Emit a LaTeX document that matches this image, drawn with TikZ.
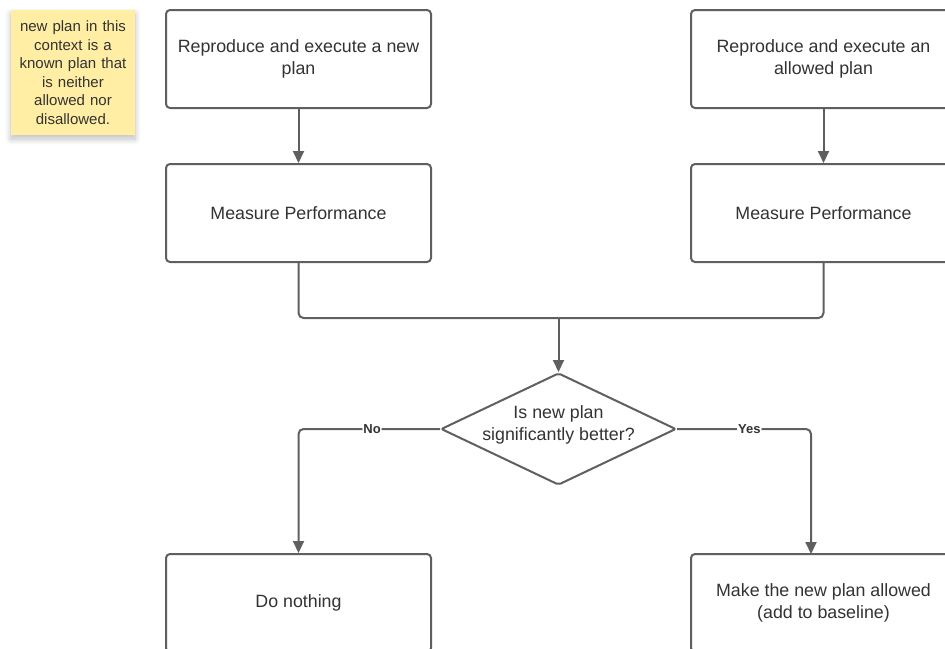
\documentclass[tikz,border=0pt]{standalone}
\usepackage{fontspec}
\setmainfont{Liberation Sans}
\usetikzlibrary{arrows.meta,shapes.geometric,shadows.blur}
\definecolor{edge}{HTML}{5F5F5F}
\definecolor{ink}{HTML}{333333}
\definecolor{note}{HTML}{FFEEA3}
\tikzset{
  stepbox/.style={draw=edge, line width=2pt, rounded corners=4pt, fill=white,
    minimum width=265pt, minimum height=98pt, align=center, text=ink,
    inner sep=0pt, font=\fontsize{17.8}{22}\selectfont},
  decision/.style={draw=edge, line width=2pt, diamond, aspect=2.1, fill=white,
    minimum width=235pt, minimum height=112pt, inner sep=0pt, align=center,
    text=ink, font=\fontsize{17.8}{22}\selectfont, rounded corners=2pt},
  link/.style={draw=edge, line width=2pt, rounded corners=5pt},
  flow/.style={link, -{Triangle[length=12pt,width=11pt]}},
  tag/.style={fill=white, inner sep=1pt, text=ink,
    font=\fontsize{13}{15}\selectfont\bfseries},
  sticky/.style={fill=note, text=ink, align=center, text width=118pt,
    minimum width=124pt, minimum height=125pt, inner sep=0pt,
    font=\fontsize{15}{18.5}\selectfont,
    blur shadow={shadow xshift=0pt, shadow yshift=-4pt, shadow blur steps=8,
      shadow blur radius=6pt, shadow opacity=25}}
}
\begin{document}
\begin{tikzpicture}[x=1pt, y=-1pt]
  \useasboundingbox (0,0) rectangle (945,648);
  \begin{scope}
  \clip (0,0) rectangle (945,648);

  % explanatory note
  \node[sticky] (note) at (73,72.5) {new plan in this\\context is a\\known plan that\\is neither\\allowed nor\\disallowed.};

  % the two measured plans
  \node[stepbox] (tl) at (298.5,59) {Reproduce and execute a new\\plan};
  \node[stepbox] (tr) at (823.5,59) {Reproduce and execute an\\allowed plan};
  \node[stepbox] (ml) at (298.5,213) {Measure Performance};
  \node[stepbox] (mr) at (823.5,213) {Measure Performance};

  % comparison
  \node[decision] (dec) at (558.5,429) {};
  \node[align=center, text=ink, font=\fontsize{17.8}{22}\selectfont, inner sep=0pt]
    (dectext) at (558.5,425) {Is new plan\\significantly better?};

  % outcomes
  \node[stepbox] (bl) at (298.5,603) {Do nothing};
  \node[stepbox] (br) at (823.5,603) {Make the new plan allowed\\(add to baseline)};

  \coordinate (join) at (558.5,318);
  \coordinate (yesin) at (811,554);

  \draw[flow] (tl) -- (ml);
  \draw[flow] (tr) -- (mr);
  \draw[link] (ml.south) |- (join);
  \draw[link] (mr.south) |- (join);
  \draw[flow] (join) -- (dec.north);
  \draw[flow] (dec.west) -| node[tag, pos=0.24] {No} (bl.north);
  \draw[flow] (dec.east) -| node[tag, pos=0.27] {Yes} (yesin);
  \end{scope}
\end{tikzpicture}
\end{document}
